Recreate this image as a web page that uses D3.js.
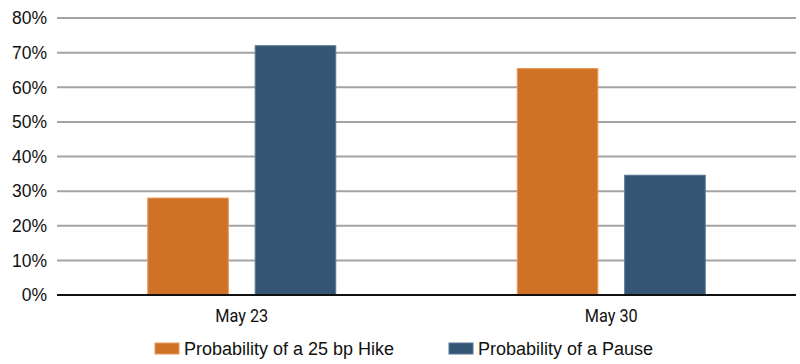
<!DOCTYPE html>
<html>
<head>
<meta charset="utf-8">
<script src="https://cdn.jsdelivr.net/npm/d3@7"></script>
<style>
  body { margin: 0; background: #fff; }
  svg { display: block; }
</style>
</head>
<body>
<script>
/* Data */
var dates = ["May 23", "May 30"],
	seriesNames = ["Probability of a 25 bp Hike", "Probability of a Pause"],
	hikeValues = [28, 65.4],
	pauseValues = [72, 34.6],
	yTicks = [0, 10, 20, 30, 40, 50, 60, 70, 80],
	colors = ["#D07226", "#345573"];

/* Display setup */
var width = 800, height = 364,
	margin = {top: 18, right: 4, bottom: 69, left: 57},
	innerW = width - margin.left - margin.right,
	innerH = height - margin.top - margin.bottom;

var svg = d3.select("body").append("svg")
	.attr("width", width)
	.attr("height", height);

var g = svg.append("g").attr("transform", "translate(" + margin.left + "," + margin.top + ")");

var x0 = d3.scaleBand().domain(dates).range([0, innerW]).padding(0),
	x1 = d3.scaleBand().domain(seriesNames).range([0, 188]).paddingInner(0.25),
	y = d3.scaleLinear().domain([0, 80]).range([innerH, 0]);

// gridlines
g.selectAll("line.grid")
	.data(yTicks.filter(function(d) { return d > 0; }))
	.enter().append("line")
		.attr("class", "grid")
		.attr("x1", 0).attr("x2", innerW)
		.attr("y1", function(d) { return y(d); })
		.attr("y2", function(d) { return y(d); })
		.style("stroke", "#a3a3a3")
		.style("stroke-width", 2);

// y tick labels
g.selectAll("text.ytick")
	.data(yTicks)
	.enter().append("text")
		.attr("class", "ytick")
		.attr("x", -10)
		.attr("y", function(d) { return y(d); })
		.attr("dy", "0.36em")
		.attr("text-anchor", "end")
		.style("font-family", "'Liberation Sans', Arial, sans-serif")
		.style("font-size", "17.5px")
		.style("fill", "#111")
		.text(function(d) { return d + "%"; });

// bars
var rows = dates.map(function(d, i) {
	return {date: d, values: [hikeValues[i], pauseValues[i]]};
});

var groups = g.selectAll("g.group")
	.data(rows)
	.enter().append("g")
		.attr("class", "group")
		.attr("transform", function(d) {
			return "translate(" + (x0(d.date) + x0.bandwidth() / 2 - 94) + ",0)";
		});

groups.selectAll("rect")
	.data(function(d) { return d.values.map(function(v, i) { return {name: seriesNames[i], value: v, i: i}; }); })
	.enter().append("rect")
		.attr("x", function(d) { return x1(d.name); })
		.attr("width", x1.bandwidth())
		.attr("y", function(d) { return y(d.value); })
		.attr("height", function(d) { return innerH - y(d.value); })
		.style("fill", function(d) { return colors[d.i]; })
		.style("stroke", function(d) { return d.i === 0 ? "#e59a5c" : "#5a7896"; })
		.style("stroke-width", 1);

// baseline
g.append("line")
	.attr("x1", 0).attr("x2", innerW)
	.attr("y1", innerH).attr("y2", innerH)
	.style("stroke", "#111")
	.style("stroke-width", 2);

// x labels
g.selectAll("text.xlabel")
	.data(dates)
	.enter().append("text")
		.attr("class", "xlabel")
		.attr("x", function(d) { return x0(d) + x0.bandwidth() / 2; })
		.attr("y", innerH + 27)
		.attr("text-anchor", "middle")
		.attr("transform", function(d) {
			var cx = x0(d) + x0.bandwidth() / 2;
			return "translate(" + cx + ",0) scale(0.88,1) translate(" + (-cx) + ",0)";
		})
		.style("font-family", "Roboto, sans-serif")
		.style("font-size", "18.5px")
		.style("fill", "#111")
		.text(function(d) { return d; });

// legend
var legendX = [155, 449];
var legend = svg.selectAll("g.legend")
	.data(seriesNames)
	.enter().append("g")
		.attr("class", "legend")
		.attr("transform", function(d, i) { return "translate(" + legendX[i] + ",343)"; });

legend.append("rect")
	.attr("width", 24).attr("height", 11)
	.style("fill", function(d, i) { return colors[i]; })
	.style("stroke", function(d, i) { return i === 0 ? "#e59a5c" : "#5a7896"; });

legend.append("text")
	.attr("x", 29)
	.attr("y", 12)
	.style("font-family", "'Liberation Sans', Arial, sans-serif")
	.style("font-size", "18px")
	.style("fill", "#111")
	.text(function(d) { return d; });
</script>
</body>
</html>
